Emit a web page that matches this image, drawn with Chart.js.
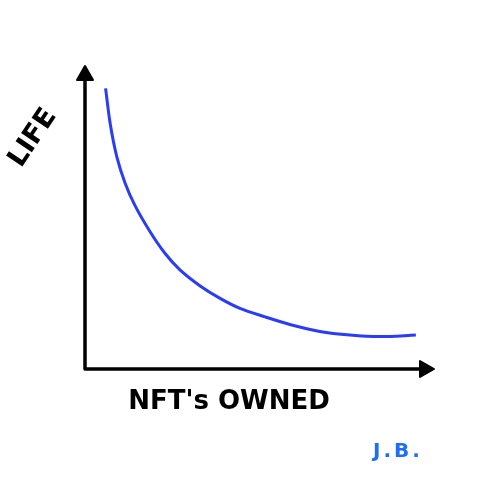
<!DOCTYPE html>
<html>
<head>
<meta charset="utf-8">
<script src="https://cdn.jsdelivr.net/npm/chart.js@4"></script>
<style>
  html, body { margin: 0; padding: 0; background: #fff; }
  #wrap { width: 500px; height: 500px; }
</style>
</head>
<body>
<div id="wrap"><canvas id="chart" width="500" height="500"></canvas></div>
<script>
// values (axes run 0..100)
const nftsOwned = [5.9, 7.2, 9.1, 11.5, 14.3, 18.6, 22.9, 27.2, 33.0, 38.7, 44.4, 51.6, 58.7, 67.3, 75.9, 84.5, 94.8]
const life = [92.6, 81.1, 70.1, 61.3, 54.0, 45.4, 38.2, 32.7, 27.4, 23.3, 20.0, 17.2, 14.7, 12.4, 11.2, 10.7, 11.2]

const xTitle = "NFT's OWNED"
const yTitle = "LIFE"
const signature = "J.B."

// hand drawn axes with arrow heads + the labels
const sketchAxes = {
  id: 'sketchAxes',
  afterDraw(chart) {
    const ctx = chart.ctx
    const x = chart.scales.x
    const y = chart.scales.y
    const x0 = x.getPixelForValue(0)
    const y0 = y.getPixelForValue(0)
    const xEnd = x.getPixelForValue(100)
    const yEnd = y.getPixelForValue(100)

    ctx.save()
    ctx.strokeStyle = '#000'
    ctx.fillStyle = '#000'
    ctx.lineWidth = 3.5
    ctx.lineCap = 'round'
    ctx.beginPath()
    ctx.moveTo(x0, y0)
    ctx.lineTo(x0, yEnd + 10)
    ctx.moveTo(x0, y0)
    ctx.lineTo(xEnd - 10, y0)
    ctx.stroke()

    ctx.lineJoin = 'round'
    ctx.lineWidth = 2
    ctx.beginPath()
    ctx.moveTo(x0, yEnd)
    ctx.lineTo(x0 - 8, yEnd + 14)
    ctx.lineTo(x0 + 8, yEnd + 14)
    ctx.closePath()
    ctx.fill()
    ctx.stroke()
    ctx.beginPath()
    ctx.moveTo(xEnd, y0)
    ctx.lineTo(xEnd - 14, y0 - 8)
    ctx.lineTo(xEnd - 14, y0 + 8)
    ctx.closePath()
    ctx.fill()
    ctx.stroke()

    ctx.textAlign = 'center'
    ctx.textBaseline = 'middle'
    ctx.font = 'bold 26px "DejaVu Sans"'
    ctx.fillText(xTitle, 229, 402)

    ctx.save()
    ctx.translate(33, 138)
    ctx.rotate(-56 * Math.PI / 180)
    ctx.font = 'bold 27px "DejaVu Sans"'
    ctx.fillText(yTitle, 0, 0)
    ctx.restore()

    ctx.fillStyle = '#1f6ff5'
    ctx.font = 'bold 20px "DejaVu Sans"'
    ctx.letterSpacing = '3px'
    ctx.fillText(signature, 398, 452)
    ctx.restore()
  }
}

new Chart(document.getElementById('chart'), {
  type: 'line',
  data: {
    datasets: [{
      data: nftsOwned.map((v, i) => ({ x: v, y: life[i] })),
      borderColor: '#2a3cf5',
      borderWidth: 3,
      pointRadius: 0,
      tension: 0.3,
      fill: false
    }]
  },
  options: {
    responsive: false,
    animation: false,
    layout: {
      padding: { left: 85, top: 66, right: 66, bottom: 131 }
    },
    plugins: {
      legend: { display: false },
      tooltip: { enabled: false }
    },
    scales: {
      x: {
        type: 'linear',
        min: 0,
        max: 100,
        display: false
      },
      y: {
        type: 'linear',
        min: 0,
        max: 100,
        display: false
      }
    }
  },
  plugins: [sketchAxes]
})
</script>
</body>
</html>
